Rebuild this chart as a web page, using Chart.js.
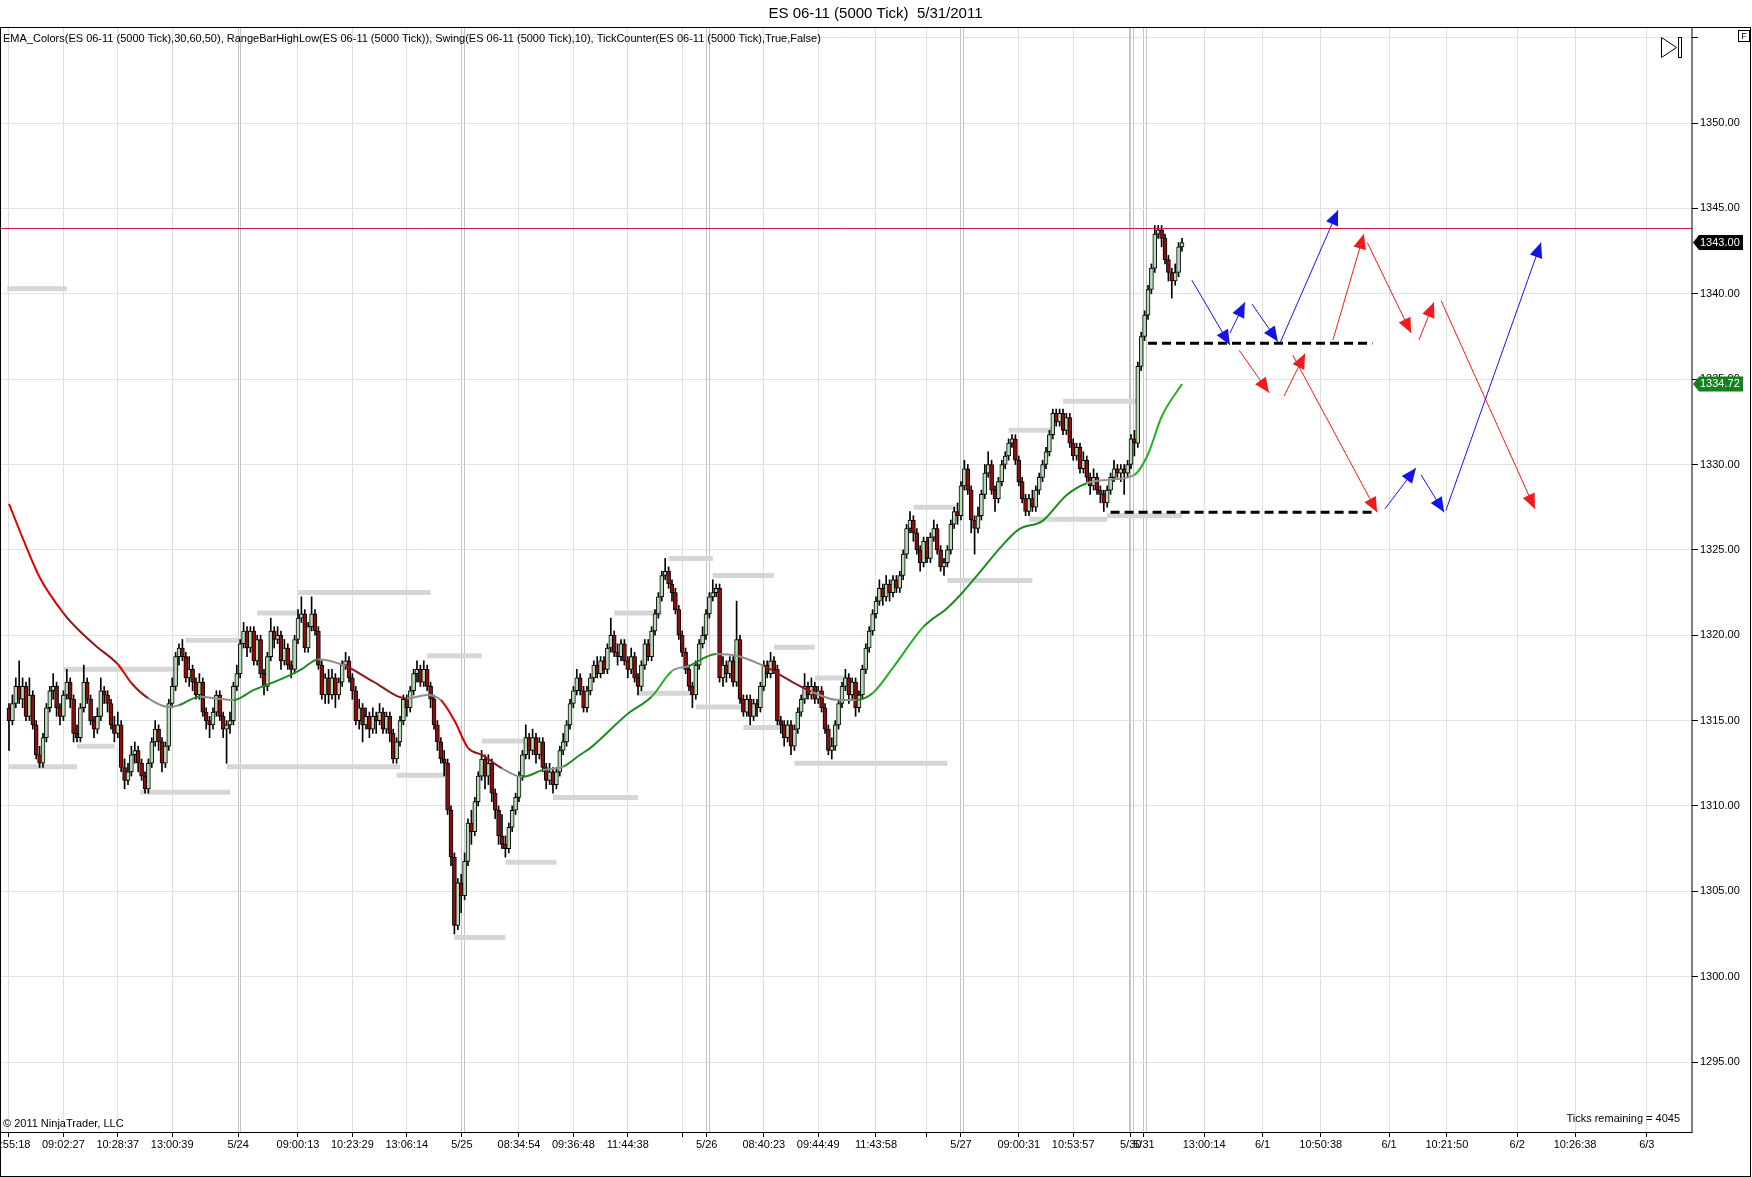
<!DOCTYPE html>
<html>
<head>
<meta charset="utf-8">
<title>ES 06-11 (5000 Tick)</title>
<script src="https://cdn.jsdelivr.net/npm/chart.js@4.4.0/dist/chart.umd.min.js"></script>
<style>
  html, body { margin: 0; padding: 0; background: #fff; }
  canvas { display: block; }
</style>
</head>
<body>
<canvas id="chart" width="1752" height="1177"></canvas>
<script>
// 5000 tick bars, ES 06-11 (one entry per bar)
const candleOpen = [
  1315.75,1315,1316,1317,1316.25,1317,1315.25,1316.5,1314.75,1313,
  1312.5,1314,1315.75,1316.75,1317,1315.75,1315.25,1316.5,1317.25,1316.25,
  1314.25,1314,1315.75,1317.25,1316.25,1315,1314.5,1315.25,1316.75,1316.5,
  1316,1314.75,1314.25,1314.75,1312.25,1311.5,1312,1313,1313.25,1312.5,
  1311.75,1311,1312.5,1313.75,1314.5,1313.75,1312.5,1313.5,1316,1317,
  1318.75,1319.25,1318.75,1317.5,1318,1317.25,1316.5,1317.25,1315.5,1315,
  1314.75,1315.5,1316.5,1315.25,1314.5,1314.75,1315,1317,1317.75,1319.5,
  1320.25,1319.25,1320.25,1318.5,1319.75,1317.75,1317,1318.75,1320.25,1319.75,
  1320,1318.5,1319.25,1318.25,1318,1319.75,1321,1321.25,1319.25,1320.5,
  1321.25,1320.25,1318.25,1316.5,1317.5,1316.5,1317.5,1316.5,1317.25,1318.25,
  1318.5,1317.5,1316.75,1315,1315.75,1314.75,1315.25,1314.5,1315.25,1315,
  1315.5,1314.5,1315.25,1314.25,1312.75,1313.75,1315,1316.25,1315.75,1316.75,
  1317.75,1318,1317.25,1318,1317,1316.25,1314.75,1313.75,1312.75,1312.5,
  1309.75,1307,1303,1305.5,1304.75,1306.75,1309,1308.5,1310.25,1311.75,
  1312.75,1311.75,1312.5,1310.75,1309.75,1308.25,1307.75,1307.5,1308.75,1309.75,
  1310.5,1311.75,1313,1314,1313.25,1314,1313,1313.75,1312.25,1311.5,
  1312,1311.25,1312,1313.25,1313.75,1314.75,1316,1316.75,1317.5,1316.75,
  1315.75,1316.75,1317.5,1318.25,1317.75,1318.5,1318,1319.25,1320,1319,
  1318.75,1319.5,1318.5,1318,1318.75,1317.5,1317,1318.25,1319.5,1318.75,
  1320.25,1321.25,1322.25,1323.5,1323.75,1323,1322.5,1321.5,1320,1319,
  1318,1317,1316.5,1318.25,1319.5,1320,1321.25,1322.25,1322.5,1322.75,
  1317.5,1318.25,1317.75,1318.5,1317.25,1319.75,1316.25,1315.5,1316.25,1315.25,
  1316,1315.75,1317,1318.25,1317.75,1318.5,1318,1315,1314.75,1314,
  1314.75,1313.5,1314.5,1315.5,1316.25,1317,1316.5,1317,1316.25,1316.75,
  1315.75,1314.5,1313.25,1313.5,1314.75,1316,1317,1317.5,1316.5,1317.25,
  1315.75,1316.5,1318,1319.25,1320.25,1321.25,1322,1322.75,1322.25,1323,
  1322.5,1323.25,1322.75,1323.5,1324.75,1326.25,1326.75,1326,1325,1324.25,
  1325.5,1324.5,1325.75,1326.25,1325,1324,1324.25,1325,1326.5,1327.25,
  1327,1328.75,1329.75,1328.5,1326.75,1326.25,1327,1328.25,1329.5,1330,
  1328.5,1328,1329,1330,1330.5,1331.25,1331.5,1330.25,1329,1328,
  1327.25,1328,1327.5,1328.5,1329.25,1330,1330.75,1331.75,1333,1332.5,
  1333,1332,1332.75,1331.25,1330.5,1331,1329.75,1330.25,1329.25,1328.75,
  1329.25,1328.5,1328.25,1327.75,1328.5,1329.25,1329.75,1329.5,1329.75,1329.5,
  1330,1331.5,1331.25,1335.75,1337.5,1338.75,1340.25,1341.5,1343.5,1343.75,
  1343.25,1342,1341.25,1340.75,1341.25,1342.75
];
const candleHigh = [
  1316,1316.5,1317.5,1318.5,1317.5,1317.25,1317.5,1316.75,1315,1313.5,
  1314.25,1316,1317,1317.75,1317.25,1316,1316.75,1318,1317.5,1316.5,
  1314.75,1316,1318.25,1317.5,1316.5,1315.25,1315.75,1317.5,1317,1316.75,
  1316.25,1315.25,1315.5,1315,1312.75,1312.5,1313.5,1313.75,1313.5,1312.75,
  1312,1312.75,1314,1315,1314.75,1314,1313.75,1316.25,1317.5,1319,
  1319.5,1319.75,1319,1318.75,1318.25,1317.5,1317.75,1317.5,1315.75,1315.25,
  1315.75,1316.75,1316.75,1315.5,1315,1315.5,1317.25,1318.25,1319.75,1320.75,
  1320.5,1320.5,1320.5,1320,1320,1318,1319,1321,1320.5,1320.5,
  1320.25,1319.75,1319.5,1318.5,1320,1321.5,1322.25,1321.5,1320.75,1322.25,
  1321.5,1320.5,1318.5,1317.75,1318,1318,1317.75,1317.5,1318.5,1319,
  1318.75,1317.75,1317,1316.25,1316,1315.75,1315.5,1315.75,1315.5,1316,
  1315.75,1315.5,1315.5,1314.5,1314,1315.25,1316.5,1316.5,1317,1318,
  1318.5,1318.25,1318.5,1318.25,1317.25,1316.5,1315,1314,1313.25,1312.75,
  1310,1307.25,1305.75,1306,1307.25,1309.25,1309.75,1310.5,1312,1313.25,
  1313,1313,1312.75,1311,1310,1309.5,1308.25,1309,1310,1310.75,
  1312,1313.25,1314.75,1314.25,1314.5,1314.25,1314,1314,1312.5,1312.5,
  1312.25,1312.25,1313.5,1314.25,1315,1316.25,1317,1318,1317.75,1317,
  1317,1317.75,1318.5,1318.75,1318.75,1318.75,1319.5,1321,1320.25,1319.5,
  1319.75,1319.75,1318.75,1319.25,1319,1317.75,1318.5,1319.75,1319.75,1320.5,
  1321.5,1322.5,1323.75,1324.5,1324,1323.25,1322.75,1321.75,1320.25,1319.25,
  1318.25,1317.25,1318.5,1319.75,1320.5,1321.5,1322.5,1323.25,1323,1323,
  1318.75,1318.5,1318.75,1318.75,1322,1320,1316.5,1316.5,1316.5,1316.25,
  1316.25,1317.25,1318.5,1318.5,1319,1318.75,1318.25,1315.25,1315,1315,
  1315,1314.75,1315.75,1316.5,1317.75,1317.25,1317.5,1317.25,1317,1317,
  1316,1314.75,1314,1315,1316.25,1317.25,1318,1317.75,1317.5,1317.5,
  1316.75,1318.25,1319.5,1320.5,1321.5,1322.25,1323.25,1323,1323.5,1323.25,
  1323.5,1323.5,1323.75,1325,1326.5,1327.25,1327,1326.25,1325.25,1325.75,
  1325.75,1326,1326.75,1326.5,1325.25,1324.5,1325.25,1326.75,1327.5,1327.75,
  1329,1330.25,1330,1328.75,1327,1327.5,1328.5,1330,1330.75,1330.25,
  1328.75,1329.25,1330.25,1330.75,1331.5,1331.75,1331.75,1330.5,1329.25,1328.25,
  1328.25,1328.5,1328.75,1329.5,1330.25,1331,1332,1333.25,1333.25,1333.25,
  1333.25,1333,1333,1331.5,1331.25,1331.25,1330.75,1330.5,1329.5,1329.75,
  1329.5,1328.75,1328.5,1328.75,1329.5,1330.25,1330,1330,1330,1330.25,
  1331.75,1332,1336,1337.75,1339,1340.5,1341.75,1344,1344,1344,
  1343.5,1342.25,1341.5,1341.75,1343,1343.25
];
const candleLow = [
  1313.25,1314.75,1315.75,1316,1315.75,1315,1315,1314.5,1312.75,1312.25,
  1312.25,1313.75,1315.5,1316.25,1315.25,1314.75,1315,1316.25,1315.75,1313.75,
  1313.75,1313.75,1315.5,1316,1314.75,1314,1314.25,1315,1316,1315.5,
  1314.5,1313.75,1314,1312,1311,1311.25,1311.75,1312.5,1312,1311.5,
  1310.75,1310.75,1312.25,1313.5,1313.25,1312,1312.25,1313.25,1315.75,1316.75,
  1318.25,1318.5,1317.25,1317,1316.75,1316.25,1316.25,1315.25,1314.5,1314,
  1314.5,1315.25,1315,1314,1312.5,1314.25,1314.75,1316.75,1317.5,1319.25,
  1318.75,1319,1318.25,1318.25,1317.5,1316.5,1316.75,1318.5,1319.25,1319.5,
  1318,1318.25,1318,1317.5,1317.75,1319.5,1320.75,1319,1319,1320.25,
  1320,1318,1316.25,1316,1316,1316.25,1315.75,1316.25,1317,1318,
  1317.25,1316.25,1314.75,1314.5,1313.75,1314.5,1314,1314.25,1314.25,1314.75,
  1314.25,1314.25,1313.75,1312.5,1312.5,1313.5,1314.75,1315.25,1315.5,1316.5,
  1317.25,1317,1317,1316.75,1315.75,1314.5,1313.25,1312.5,1311.75,1309.5,
  1306.5,1302.5,1302.75,1303.75,1304.5,1306.5,1307.75,1308.25,1310,1311.5,
  1311,1311.25,1310.25,1309.25,1307.75,1307.5,1307,1307.25,1308.5,1309.5,
  1310.25,1311.5,1312.75,1312.75,1313,1312.5,1312.75,1312,1311,1311.25,
  1310.75,1311,1311.75,1313,1313.5,1314.5,1315.75,1316.5,1316.5,1315.5,
  1315.5,1316.5,1317.25,1317.5,1317.5,1317.75,1317.75,1319,1318.75,1318.25,
  1318.5,1318.25,1317.5,1317.75,1317.25,1316.5,1316.75,1318,1318.5,1318.5,
  1320,1321,1322,1323.25,1322.75,1322,1321.25,1319.75,1318.75,1317.75,
  1316.75,1315.75,1316.25,1318,1319.25,1319.75,1321,1322,1322.25,1317.25,
  1317,1317.25,1317.5,1317,1317,1316,1315.25,1315.25,1314.75,1315,
  1315.25,1315.5,1316.75,1317.5,1317.5,1317.75,1314.75,1314.25,1313.5,1313.75,
  1313,1313.25,1314.25,1315.25,1316,1316.25,1316.25,1316,1316,1315.5,
  1314.25,1313,1312.75,1313.25,1314.5,1315.75,1316.75,1316,1316.25,1315.25,
  1315.5,1316.25,1317.75,1319,1320,1321,1321.75,1321.75,1322,1322,
  1322.25,1322.5,1322.5,1323.25,1324.5,1326,1325.5,1324.75,1323.75,1324,
  1324.25,1324.25,1325.5,1324.75,1323.75,1323.5,1324,1324.75,1326.25,1326.5,
  1326.75,1328.5,1328.25,1326,1324.75,1326,1326.75,1328,1329.25,1328.25,
  1327.25,1327.75,1328.75,1329.75,1330.25,1331,1330,1328.75,1327.75,1327,
  1327,1327.25,1327.25,1328.25,1329,1329.75,1330.5,1331.5,1332.25,1332.25,
  1331.75,1331.75,1331,1330.25,1330.25,1329.5,1329.5,1329,1328.25,1328.5,
  1328.25,1327.75,1327.25,1327.5,1328.25,1329,1329.25,1329,1328.25,1329.25,
  1329.75,1330.5,1331,1335.5,1337.25,1338.5,1340,1341.25,1343.25,1342.75,
  1341.75,1340.75,1339.75,1340.5,1341,1342.5
];
const candleClose = [
  1315,1316,1317,1316.25,1317,1315.25,1316.5,1314.75,1313,1312.5,
  1314,1315.75,1316.75,1317,1315.75,1315.25,1316.5,1317.25,1316.25,1314.25,
  1314,1315.75,1317.25,1316.25,1315,1314.5,1315.25,1316.75,1316.5,1316,
  1314.75,1314.25,1314.75,1312.25,1311.5,1312,1313,1313.25,1312.5,1311.75,
  1311,1312.5,1313.75,1314.5,1313.75,1312.5,1313.5,1316,1317,1318.75,
  1319.25,1318.75,1317.5,1318,1317.25,1316.5,1317.25,1315.5,1315,1314.75,
  1315.5,1316.5,1315.25,1314.5,1314.75,1315,1317,1317.75,1319.5,1320.25,
  1319.25,1320.25,1318.5,1319.75,1317.75,1317,1318.75,1320.25,1319.75,1320,
  1318.5,1319.25,1318.25,1318,1319.75,1321,1321.25,1319.25,1320.5,1321.25,
  1320.25,1318.25,1316.5,1317.5,1316.5,1317.5,1316.5,1317.25,1318.25,1318.5,
  1317.5,1316.75,1315,1315.75,1314.75,1315.25,1314.5,1315.25,1315,1315.5,
  1314.5,1315.25,1314.25,1312.75,1313.75,1315,1316.25,1315.75,1316.75,1317.75,
  1318,1317.25,1318,1317,1316.25,1314.75,1313.75,1312.75,1312.5,1309.75,
  1307,1303,1305.5,1304.75,1306.75,1309,1308.5,1310.25,1311.75,1312.75,
  1311.75,1312.5,1310.75,1309.75,1308.25,1307.75,1307.5,1308.75,1309.75,1310.5,
  1311.75,1313,1314,1313.25,1314,1313,1313.75,1312.25,1311.5,1312,
  1311.25,1312,1313.25,1313.75,1314.75,1316,1316.75,1317.5,1316.75,1315.75,
  1316.75,1317.5,1318.25,1317.75,1318.5,1318,1319.25,1320,1319,1318.75,
  1319.5,1318.5,1318,1318.75,1317.5,1317,1318.25,1319.5,1318.75,1320.25,
  1321.25,1322.25,1323.5,1323.75,1323,1322.5,1321.5,1320,1319,1318,
  1317,1316.5,1318.25,1319.5,1320,1321.25,1322.25,1322.5,1322.75,1317.5,
  1318.25,1317.75,1318.5,1317.25,1319.75,1316.25,1315.5,1316.25,1315.25,1316,
  1315.75,1317,1318.25,1317.75,1318.5,1318,1315,1314.75,1314,1314.75,
  1313.5,1314.5,1315.5,1316.25,1317,1316.5,1317,1316.25,1316.75,1315.75,
  1314.5,1313.25,1313.5,1314.75,1316,1317,1317.5,1316.5,1317.25,1315.75,
  1316.5,1318,1319.25,1320.25,1321.25,1322,1322.75,1322.25,1323,1322.5,
  1323.25,1322.75,1323.5,1324.75,1326.25,1326.75,1326,1325,1324.25,1325.5,
  1324.5,1325.75,1326.25,1325,1324,1324.25,1325,1326.5,1327.25,1327,
  1328.75,1329.75,1328.5,1326.75,1326.25,1327,1328.25,1329.5,1330,1328.5,
  1328,1329,1330,1330.5,1331.25,1331.5,1330.25,1329,1328,1327.25,
  1328,1327.5,1328.5,1329.25,1330,1330.75,1331.75,1333,1332.5,1333,
  1332,1332.75,1331.25,1330.5,1331,1329.75,1330.25,1329.25,1328.75,1329.25,
  1328.5,1328.25,1327.75,1328.5,1329.25,1329.75,1329.5,1329.75,1329.5,1330,
  1331.5,1331.25,1335.75,1337.5,1338.75,1340.25,1341.5,1343.5,1343.75,1343.25,
  1342,1341.25,1340.75,1341.25,1342.75,1343
];

// EMA line, sampled at bar indexes
const emaIdx = [0,4,9,16,21,26,32,36,41,47,50,56,61,66,72,76,82,86,91,99,
  107,117,123,127,131,135,139,145,151,157,163,168,171,182,189,195,200,208,214,222,
  231,236,244,249,254,260,269,276,280,286,291,297,304,311,317,323,331,335,339,345];
const emaVal = [1327.7,1325.7,1323.4,1321.3,1320.2,1319.3,1318.3,1317.2,1316.3,1315.8,
  1315.9,1316.4,1316.3,1316.2,1316.8,1317.1,1317.6,1318.0,1318.6,1318.2,
  1317.3,1316.3,1316.5,1316.2,1315.0,1313.4,1313.0,1312.2,1311.7,1312.1,
  1312.3,1313.0,1313.4,1315.4,1316.4,1317.9,1318.2,1318.9,1318.8,1318.2,
  1317.2,1316.7,1316.2,1316.2,1316.6,1318.1,1320.5,1321.6,1322.4,1323.8,
  1325.0,1326.2,1326.7,1328.2,1328.9,1329.1,1329.4,1330.6,1332.8,1334.72];

// RangeBarHighLow / Swing levels (grey bars)
const swingStart = [-0.5,0,16,20,38.5,52,73,64,85,123,114,139,131,146,160,178,185,194,207,202,216,225,237,231,266,276,294,310,300,323];
const swingEnd = [17,20,50,31,65,69,85,115,124,139,128,153,146,161,185,192,201,207,225,216,227,237,247,276,279,301,307,332,323,345];
const swingPrice = [1340.3,1312.3,1318.0,1313.5,1310.8,1319.7,1321.3,1312.3,1322.5,1318.8,1311.8,1313.8,1302.3,1306.7,1310.5,
  1321.3,1316.6,1324.5,1323.5,1315.8,1314.6,1319.3,1317.5,1312.5,1327.5,1323.2,1332.0,1333.7,1326.8,1327.0];

// dashed support lines
const dashStart = [335, 324];
const dashEnd = [401, 401];
const dashPrice = [1337.1, 1327.2];

// hand drawn projection arrows
const blueFromX = [347.9, 359.1, 365.6, 373.8, 404.7, 415.3, 422.6];
const blueFromY = [1340.8, 1337.7, 1339.4, 1337.1, 1327.4, 1329.4, 1327.3];
const blueToX = [359.1, 363.5, 373.2, 390.9, 413.8, 422.1, 450.6];
const blueToY = [1337.0, 1339.5, 1337.2, 1344.9, 1329.8, 1327.2, 1343.0];
const redFromX = [361.8, 375.0, 377.6, 389.4, 399.5, 414.7, 421.2];
const redFromY = [1336.7, 1334.0, 1336.4, 1337.3, 1343.0, 1337.3, 1339.6];
const redToX = [370.6, 381.2, 402.4, 398.5, 412.4, 419.1, 448.8];
const redToY = [1334.2, 1336.5, 1327.2, 1343.5, 1337.7, 1339.5, 1327.4];

const highLine = 1343.87;

// time axis
const tickPos = [0,16,32,48,67.4,85,101,117,133.2,150,166,182,198,205.2,222,238,255,270,280,297,313,329.9,333.8,
  351.5,368.7,385.8,405.9,422.9,443.6,460.6,481.7];
const tickText = ['12:55:18','09:02:27','10:28:37','13:00:39','5/24','09:00:13','10:23:29','13:06:14','5/25',
  '08:34:54','09:36:48','11:44:38','','5/26','08:40:23','09:44:49','11:43:58','','5/27','09:00:31','10:53:57',
  '5/30','5/31','13:00:14','6/1','10:50:38','6/1','10:21:50','6/2','10:26:38','6/3'];
const sessionIdx = [67.4, 133.2, 205.2, 280, 328.8, 329.9, 333.8];
const priceTicks = [1295,1300,1305,1310,1315,1320,1325,1330,1335,1340,1345,1350,1355];

const FONT = '"Liberation Sans", Arial, sans-serif';
Chart.defaults.font.family = FONT;
Chart.defaults.color = '#000';

function segmentsData(x0s, x1s, y0s, y1s) {
  const out = [];
  x0s.forEach((x, k) => {
    out.push({ x, y: y0s[k] }, { x: x1s[k], y: y1s[k] }, { x: x1s[k], y: null });
  });
  return out;
}

function emaColor(slope) {
  if (slope <= -0.25) return '#e00000';
  if (slope <= -0.1) return '#8b1a1a';
  if (slope >= 0.25) return '#22b022';
  if (slope >= 0.06) return '#1e8c1e';
  return '#8f8f8f';
}

const bodies = candleOpen.map((o, i) => ({ x: i, y: [o, candleClose[i]] }));
const wicks = candleHigh.map((h, i) => ({ x: i, y: [candleLow[i], h] }));
const emaPoints = emaIdx.map((x, i) => ({ x, y: emaVal[i] }));

function arrowHead(ctx, x0, y0, x1, y1) {
  const ang = Math.atan2(y1 - y0, x1 - x0);
  const L = 15, W = 6.5;
  const bx = x1 - L * Math.cos(ang), by = y1 - L * Math.sin(ang);
  ctx.beginPath();
  ctx.moveTo(x1, y1);
  ctx.lineTo(bx + W * Math.sin(ang), by - W * Math.cos(ang));
  ctx.lineTo(bx - W * Math.sin(ang), by + W * Math.cos(ang));
  ctx.closePath();
  ctx.fill();
}

function priceTag(ctx, x0, y, text, bg) {
  ctx.fillStyle = bg;
  ctx.beginPath();
  ctx.moveTo(x0, y);
  ctx.lineTo(x0 + 6, y - 7.5);
  ctx.lineTo(x0 + 50, y - 7.5);
  ctx.lineTo(x0 + 50, y + 7.5);
  ctx.lineTo(x0 + 6, y + 7.5);
  ctx.closePath();
  ctx.fill();
  ctx.fillStyle = '#fff';
  ctx.font = '11px ' + FONT;
  ctx.textAlign = 'left';
  ctx.textBaseline = 'middle';
  ctx.fillText(text, x0 + 7, y + 0.5);
}

const decor = {
  id: 'decor',
  beforeDatasetsDraw(chart) {
    const { ctx, chartArea: a, scales: { x } } = chart;
    ctx.save();
    ctx.strokeStyle = '#c4c4c4';
    ctx.lineWidth = 1;
    sessionIdx.forEach(v => {
      const px = Math.round(x.getPixelForValue(v)) + 2.5;
      ctx.beginPath();
      ctx.moveTo(px, a.top);
      ctx.lineTo(px, a.bottom);
      ctx.stroke();
    });
    ctx.restore();
  },
  afterDatasetsDraw(chart) {
    const { ctx, chartArea: a, scales: { x, y } } = chart;
    ctx.save();
    // last high line
    const hy = Math.round(y.getPixelForValue(highLine)) + 0.5;
    ctx.strokeStyle = '#c81e50';
    ctx.lineWidth = 1;
    ctx.beginPath();
    ctx.moveTo(a.left, hy);
    ctx.lineTo(a.right, hy);
    ctx.stroke();
    // arrow heads
    ctx.fillStyle = '#1414e6';
    blueToX.forEach((tx, k) => arrowHead(ctx,
      x.getPixelForValue(blueFromX[k]), y.getPixelForValue(blueFromY[k]),
      x.getPixelForValue(tx), y.getPixelForValue(blueToY[k])));
    ctx.fillStyle = '#ee1c1c';
    redToX.forEach((tx, k) => arrowHead(ctx,
      x.getPixelForValue(redFromX[k]), y.getPixelForValue(redFromY[k]),
      x.getPixelForValue(tx), y.getPixelForValue(redToY[k])));
    ctx.restore();
  },
  afterDraw(chart) {
    const { ctx, chartArea: a, scales: { y } } = chart;
    ctx.save();
    // frames
    ctx.strokeStyle = '#000';
    ctx.lineWidth = 1;
    ctx.strokeRect(0.5, a.top - 0.5, 1750, chart.height - a.top);
    ctx.strokeRect(0.5, a.top - 0.5, a.right - 0.5, a.bottom - a.top + 1);

    // indicator list
    ctx.fillStyle = '#000';
    ctx.font = '11px ' + FONT;
    ctx.textAlign = 'left';
    ctx.textBaseline = 'middle';
    ctx.fillText('EMA_Colors(ES 06-11 (5000 Tick),30,60,50), RangeBarHighLow(ES 06-11 (5000 Tick)), Swing(ES 06-11 (5000 Tick),10), TickCounter(ES 06-11 (5000 Tick),True,False)', a.left + 2, a.top + 11);
    ctx.fillText('\u00a9 2011 NinjaTrader, LLC', a.left + 2, a.bottom - 8);
    ctx.textAlign = 'right';
    ctx.fillText('Ticks remaining = 4045', a.right - 12, a.bottom - 13);

    // "F" box
    ctx.strokeRect(1738.5, 30.5, 11, 11);
    ctx.font = '9px ' + FONT;
    ctx.textAlign = 'center';
    ctx.fillText('F', 1744, 36.5);

    // go to end icon
    ctx.beginPath();
    ctx.moveTo(1661.5, 37.5);
    ctx.lineTo(1676.5, 47.5);
    ctx.lineTo(1661.5, 57.5);
    ctx.closePath();
    ctx.stroke();
    ctx.strokeRect(1678.5, 37.5, 3, 20);

    // price markers
    const last = candleClose[candleClose.length - 1];
    priceTag(ctx, a.right + 1, y.getPixelForValue(last), last.toFixed(2), '#000');
    const lastEma = emaVal[emaVal.length - 1];
    priceTag(ctx, a.right + 1, y.getPixelForValue(lastEma), lastEma.toFixed(2), '#14801e');
    ctx.restore();
  }
};

new Chart(document.getElementById('chart'), {
  type: 'bar',
  data: {
    datasets: [
      {
        type: 'line', label: 'Swing', data: segmentsData(swingStart, swingEnd, swingPrice, swingPrice),
        borderColor: '#d6d6d6', borderWidth: 5, borderCapStyle: 'butt', pointRadius: 0, spanGaps: false, order: 6
      },
      {
        type: 'line', label: 'Support', data: segmentsData(dashStart, dashEnd, dashPrice, dashPrice),
        borderColor: '#000', borderWidth: 3, borderDash: [9, 5], borderCapStyle: 'butt', pointRadius: 0, spanGaps: false, order: 5
      },
      {
        type: 'bar', label: 'Wick', data: wicks, barThickness: 1, backgroundColor: '#000',
        grouped: false, order: 4
      },
      {
        type: 'bar', label: 'Body', data: bodies, barThickness: 4, grouped: false, order: 3,
        backgroundColor: ctx => (ctx.raw && ctx.raw.y[1] >= ctx.raw.y[0] ? '#b6ddb6' : '#8e0c0c'),
        borderColor: '#000', borderWidth: 1, borderSkipped: false
      },
      {
        type: 'line', label: 'EMA', data: emaPoints, borderWidth: 2, pointRadius: 0,
        cubicInterpolationMode: 'monotone', order: 2,
        segment: { borderColor: ctx => emaColor((ctx.p1.parsed.y - ctx.p0.parsed.y) / (ctx.p1.parsed.x - ctx.p0.parsed.x)) }
      },
      {
        type: 'line', label: 'Blue', data: segmentsData(blueFromX, blueToX, blueFromY, blueToY),
        borderColor: '#1414e6', borderWidth: 1, pointRadius: 0, spanGaps: false, order: 1
      },
      {
        type: 'line', label: 'Red', data: segmentsData(redFromX, redToX, redFromY, redToY),
        borderColor: '#ee1c1c', borderWidth: 1, pointRadius: 0, spanGaps: false, order: 1
      }
    ]
  },
  options: {
    responsive: false,
    animation: false,
    devicePixelRatio: 1,
    layout: { padding: { left: 1, right: 2, top: 0, bottom: 0 } },
    plugins: {
      legend: { display: false },
      tooltip: { enabled: false },
      title: {
        display: true,
        text: 'ES 06-11 (5000 Tick)  5/31/2011',
        color: '#000',
        font: { size: 15, weight: 'normal', family: FONT },
        padding: { top: 5, bottom: 5 }
      }
    },
    scales: {
      x: {
        type: 'linear', min: -2.35, max: 495, bounds: 'data', offset: false,
        afterBuildTicks: s => { s.ticks = tickPos.map(v => ({ value: v })); },
        afterFit: s => { s.height = 45; s.paddingLeft = 0; s.paddingRight = 0; },
        ticks: {
          autoSkip: false, maxRotation: 0, minRotation: 0, padding: 1, color: '#000',
          font: { size: 11 }, callback: (v, i) => tickText[i]
        },
        grid: {
          offset: false, lineWidth: 1, tickLength: 5, tickColor: '#000',
          color: ctx => (ctx.tick && sessionIdx.includes(ctx.tick.value) ? '#c4c4c4' : '#dedede')
        },
        border: { display: false }
      },
      y: {
        position: 'right', min: 1290.9, max: 1355.57, beginAtZero: false, bounds: 'data',
        afterBuildTicks: s => { s.ticks = priceTicks.map(v => ({ value: v })); },
        afterFit: s => { s.width = 58; s.paddingTop = 0; s.paddingBottom = 0; },
        ticks: {
          padding: 2, color: '#000', font: { size: 11 },
          callback: v => (v > 1350 ? '' : Number(v).toFixed(2))
        },
        grid: { color: '#e2e2e2', lineWidth: 1, tickLength: 6, tickColor: '#000' },
        border: { display: false }
      }
    }
  },
  plugins: [decor]
});
</script>
</body>
</html>
